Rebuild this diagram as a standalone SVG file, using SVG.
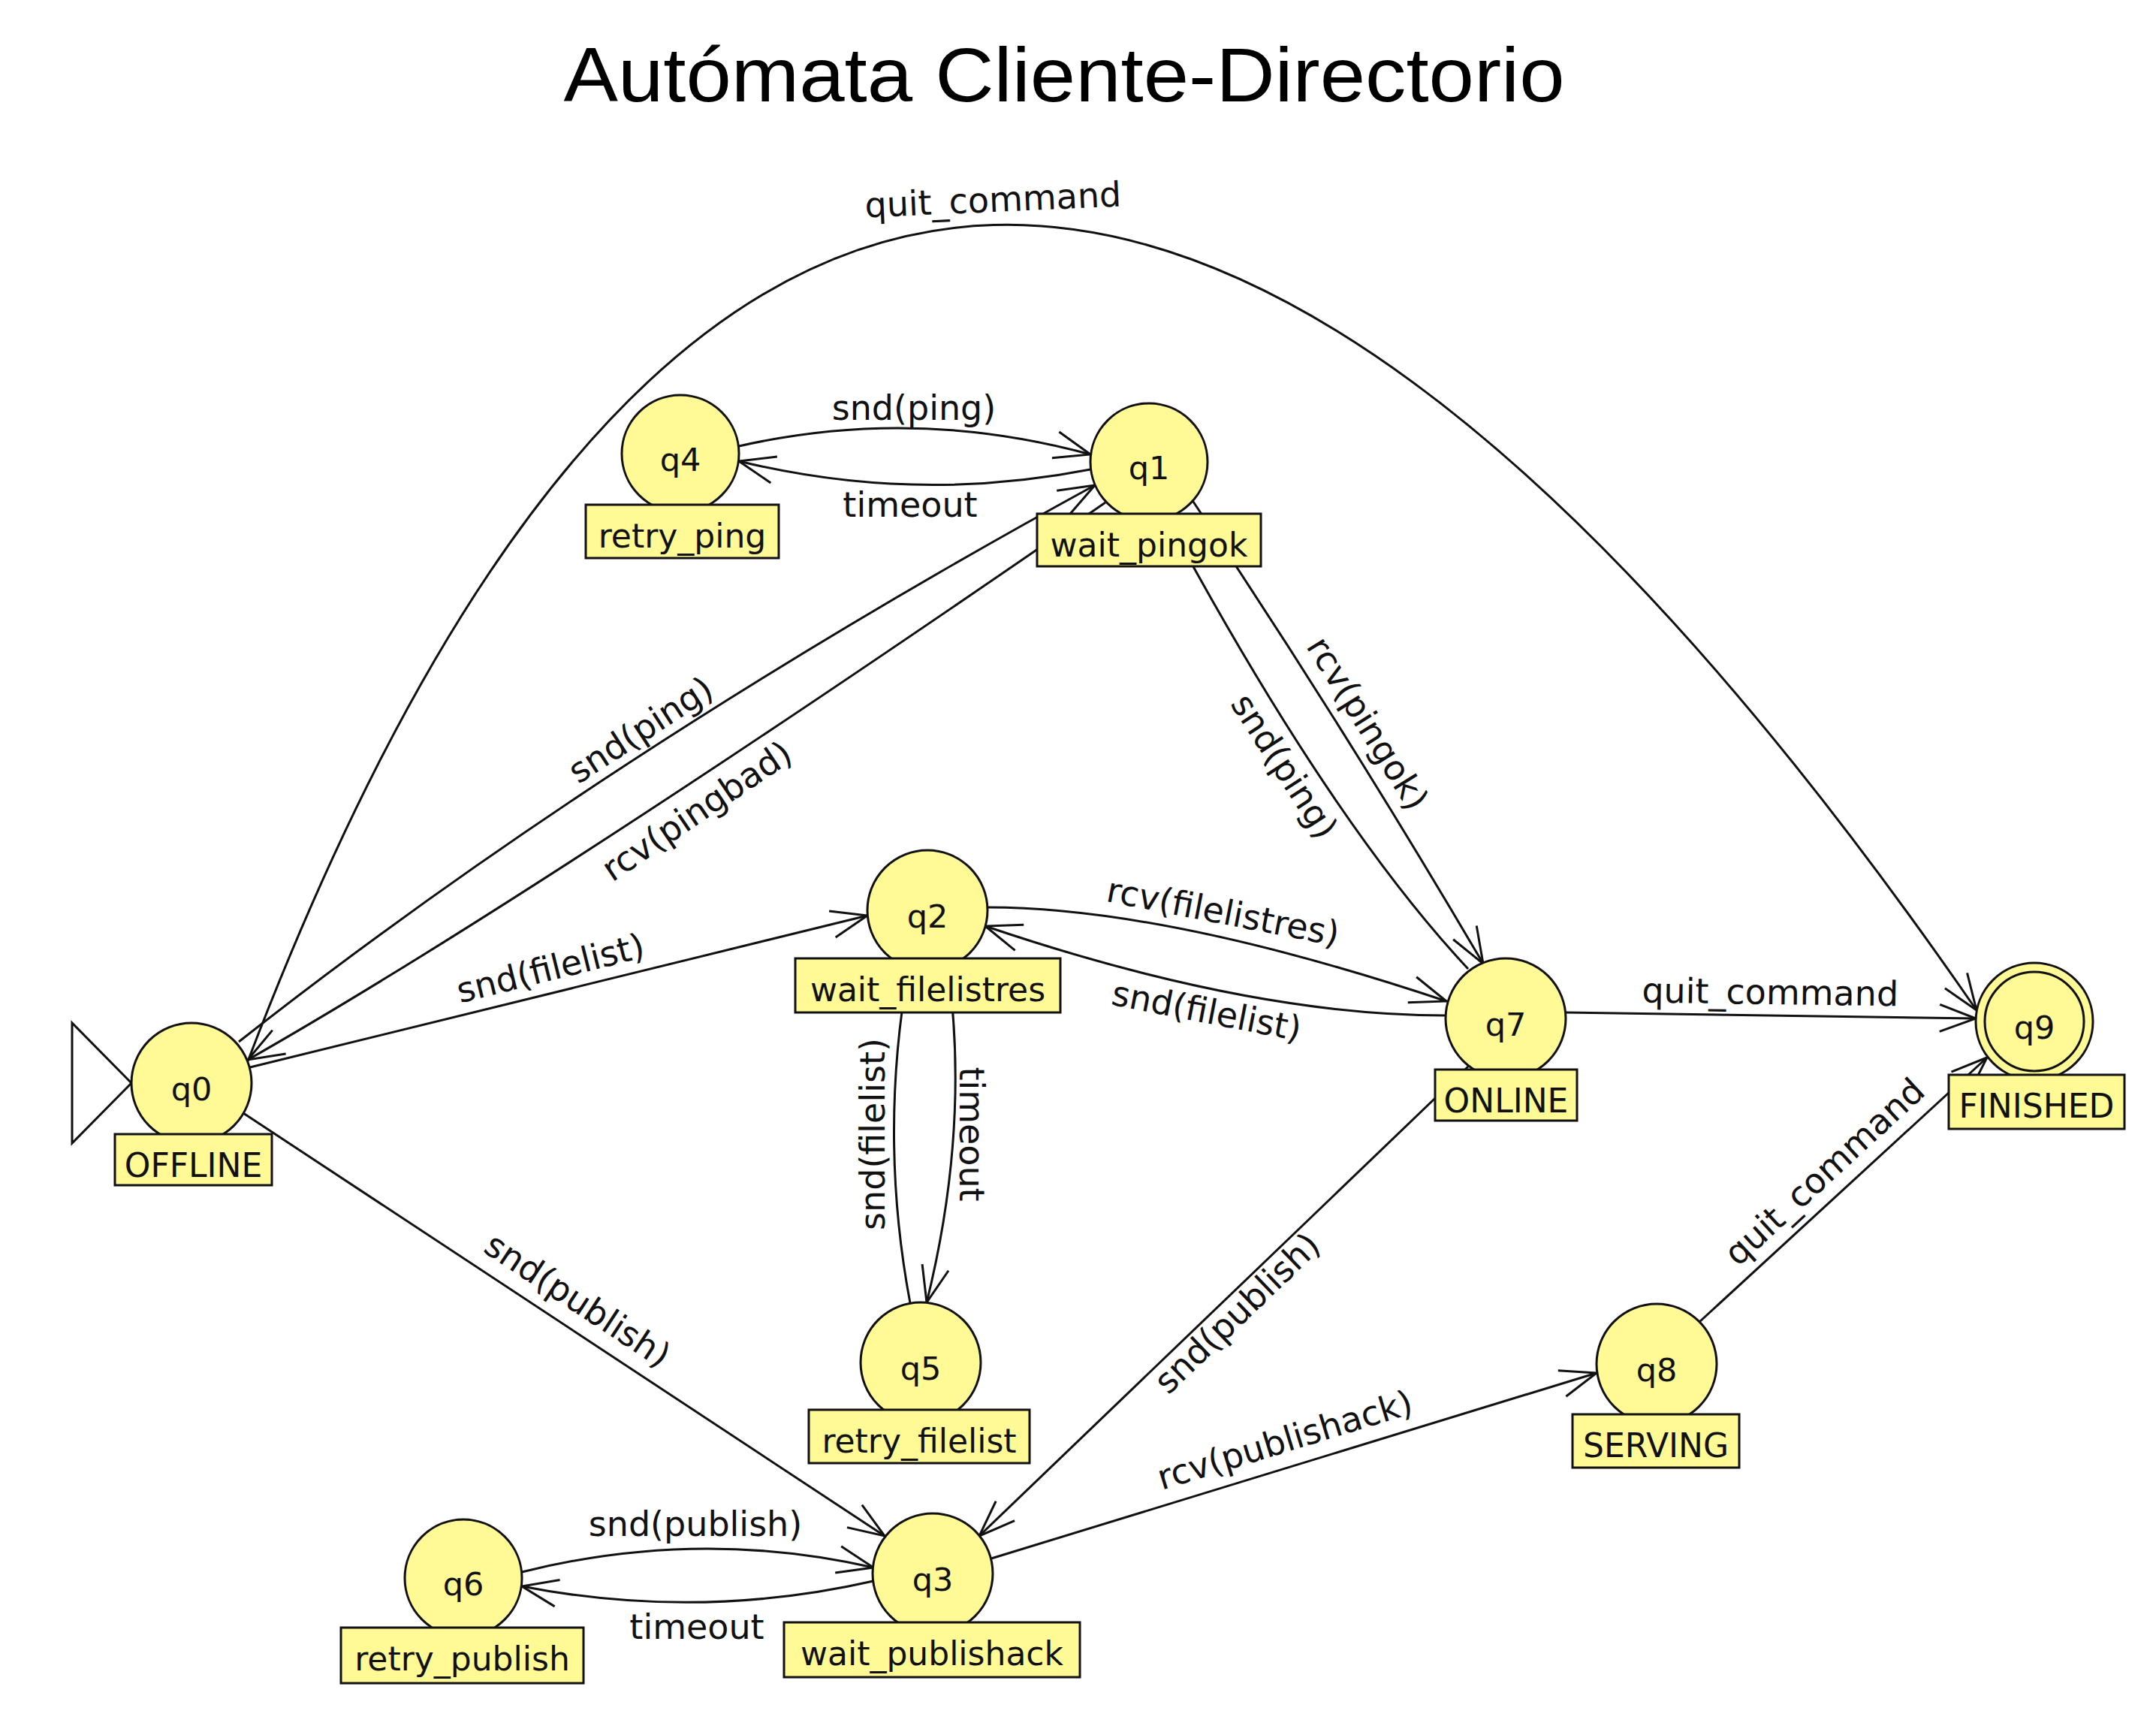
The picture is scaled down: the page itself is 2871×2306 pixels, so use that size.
<svg xmlns="http://www.w3.org/2000/svg" width="2871" height="2306" viewBox="0 0 2871 2306">
<style>
.st{fill:#fffa96;stroke:#111;stroke-width:3}
.lb{fill:#fffa96;stroke:#111;stroke-width:3}
.nt{font-family:"DejaVu Sans",sans-serif;font-size:43px;text-anchor:middle;fill:#111}
.lt{font-family:"DejaVu Sans",sans-serif;font-size:44px;text-anchor:middle;fill:#111}
.e{fill:none;stroke:#111;stroke-width:3;marker-end:url(#arr)}
.el{font-family:"DejaVu Sans",sans-serif;font-size:46px;text-anchor:middle;fill:#111}
.title{font-family:"Liberation Sans",Arial,sans-serif;font-size:102px;text-anchor:middle;fill:#000}
</style>
<defs>
<marker id="arr" markerUnits="userSpaceOnUse" viewBox="-55 -25 61 50" markerWidth="61" markerHeight="50" refX="0" refY="0" orient="auto" overflow="visible">
<path d="M-48,-18 L0,0 L-48,18" fill="none" stroke="#111" stroke-width="3"/>
</marker>
</defs>
<rect x="0" y="0" width="2871" height="2306" fill="#fff"/>
<text class="title" x="1417" y="135" textLength="1333" lengthAdjust="spacingAndGlyphs">Autómata Cliente-Directorio</text>

<g id="connectors">
<g id="e-q0-q9"><path class="e" d="M330,1413 Q1165,-780 2632,1345"/><text class="el" transform="translate(1323,282) rotate(-2.5)">quit_command</text></g>
<g id="e-q4-q1"><path class="e" d="M984,594 Q1217,541 1452,605"/><text class="el" x="1217" y="559">snd(ping)</text></g>
<g id="e-q1-q4"><path class="e" d="M1452,625 Q1217,671 984,614"/><text class="el" x="1212" y="688">timeout</text></g>
<g id="e-q0-q1"><path class="e" d="M318,1387 Q810,1000 1458,646"/><text class="el" transform="translate(855,975) rotate(-33)" y="12">snd(ping)</text></g>
<g id="e-q1-q0"><path class="e" d="M1472,669 Q713,1193 330,1411"/><text class="el" transform="translate(930,1083) rotate(-34)" y="12">rcv(pingbad)</text></g>
<g id="e-q0-q2"><path class="e" d="M333,1421 L1155,1219"/><text class="el" transform="translate(734,1293) rotate(-14)" y="12">snd(filelist)</text></g>
<g id="e-q2-q7"><path class="e" d="M1315,1208 Q1552,1208 1926,1333"/><text class="el" transform="translate(1628,1218) rotate(11)" y="12">rcv(filelistres)</text></g>
<g id="e-q7-q2"><path class="e" d="M1925,1352 Q1663,1352 1312,1233"/><text class="el" transform="translate(1606,1350) rotate(11)" y="12">snd(filelist)</text></g>
<g id="e-q2-q5"><path class="e" d="M1262,1287 Q1292,1500 1234,1734"/><text class="el" transform="translate(1290,1510) rotate(90)" y="12">timeout</text></g>
<g id="e-q5-q2"><path class="e" d="M1212,1735 Q1170,1512 1210,1289"/><text class="el" transform="translate(1166,1510) rotate(-90)" y="12">snd(filelist)</text></g>
<g id="e-q7-q1"><path class="e" d="M1955,1290 Q1771,1093 1556,694"/><text class="el" transform="translate(1707,1022) rotate(57)" y="12">snd(ping)</text></g>
<g id="e-q1-q7"><path class="e" d="M1587,665 Q1790,968 1975,1283"/><text class="el" transform="translate(1818,965) rotate(58)" y="12">rcv(pingok)</text></g>
<g id="e-q7-q9"><path class="e" d="M2085,1348 L2631,1356"/><text class="el" transform="translate(2357,1337) rotate(0.8)">quit_command</text></g>
<g id="e-q8-q9"><path class="e" d="M2263,1760 L2646,1408"/><text class="el" transform="translate(2432,1563) rotate(-42.6)" y="12">quit_command</text></g>
<g id="e-q0-q3"><path class="e" d="M324,1482 L1178,2045"/><text class="el" transform="translate(767,1734) rotate(33.4)" y="12">snd(publish)</text></g>
<g id="e-q7-q3"><path class="e" d="M1956,1419 L1304,2045"/><text class="el" transform="translate(1650,1751) rotate(-43.8)" y="12">snd(publish)</text></g>
<g id="e-q3-q8"><path class="e" d="M1320,2075 L2126,1828"/><text class="el" transform="translate(1712,1921) rotate(-17)" y="12">rcv(publishack)</text></g>
<g id="e-q6-q3"><path class="e" d="M695,2093 Q930,2034 1163,2087"/><text class="el" x="926" y="2045">snd(publish)</text></g>
<g id="e-q3-q6"><path class="e" d="M1163,2105 Q930,2158 695,2112"/><text class="el" x="928" y="2182">timeout</text></g>
</g>

<g id="q0">
<path d="M96,1362 L96,1522 L175,1442 Z" fill="none" stroke="#111" stroke-width="3"/>
<circle class="st" cx="255" cy="1442" r="80"/><text class="nt" x="255" y="1465">q0</text>
<rect class="lb" x="153" y="1510" width="209" height="68"/><text class="lt" x="257.5" y="1567">OFFLINE</text>
</g>
<g id="q4">
<circle class="st" cx="906" cy="604" r="78"/><text class="nt" x="906" y="627">q4</text>
<rect class="lb" x="780" y="672" width="257" height="71"/><text class="lt" x="908.5" y="729">retry_ping</text>
</g>
<g id="q1">
<circle class="st" cx="1530" cy="615" r="78"/><text class="nt" x="1530" y="638">q1</text>
<rect class="lb" x="1381" y="684" width="298" height="70"/><text class="lt" x="1530" y="741">wait_pingok</text>
</g>
<g id="q2">
<circle class="st" cx="1235" cy="1212" r="80"/><text class="nt" x="1235" y="1235">q2</text>
<rect class="lb" x="1059" y="1276" width="353" height="72"/><text class="lt" x="1235.5" y="1333">wait_filelistres</text>
</g>
<g id="q7">
<circle class="st" cx="2005" cy="1356" r="80"/><text class="nt" x="2005" y="1379">q7</text>
<rect class="lb" x="1911" y="1424" width="189" height="68"/><text class="lt" x="2005.5" y="1481">ONLINE</text>
</g>
<g id="q9">
<circle class="st" cx="2709" cy="1360" r="78"/><circle class="st" cx="2709" cy="1360" r="66"/><text class="nt" x="2709" y="1383">q9</text>
<rect class="lb" x="2595" y="1431" width="234" height="72"/><text class="lt" x="2712" y="1488">FINISHED</text>
</g>
<g id="q5">
<circle class="st" cx="1226" cy="1814" r="80"/><text class="nt" x="1226" y="1837">q5</text>
<rect class="lb" x="1077" y="1877" width="294" height="71"/><text class="lt" x="1224" y="1934">retry_filelist</text>
</g>
<g id="q8">
<circle class="st" cx="2206" cy="1816" r="80"/><text class="nt" x="2206" y="1839">q8</text>
<rect class="lb" x="2094" y="1883" width="222" height="71"/><text class="lt" x="2205" y="1940">SERVING</text>
</g>
<g id="q3">
<circle class="st" cx="1242" cy="2095" r="80"/><text class="nt" x="1242" y="2118">q3</text>
<rect class="lb" x="1044" y="2160" width="394" height="73"/><text class="lt" x="1241" y="2217">wait_publishack</text>
</g>
<g id="q6">
<circle class="st" cx="617" cy="2101" r="78"/><text class="nt" x="617" y="2124">q6</text>
<rect class="lb" x="454" y="2167" width="323" height="74"/><text class="lt" x="615.5" y="2224">retry_publish</text>
</g>
</svg>
